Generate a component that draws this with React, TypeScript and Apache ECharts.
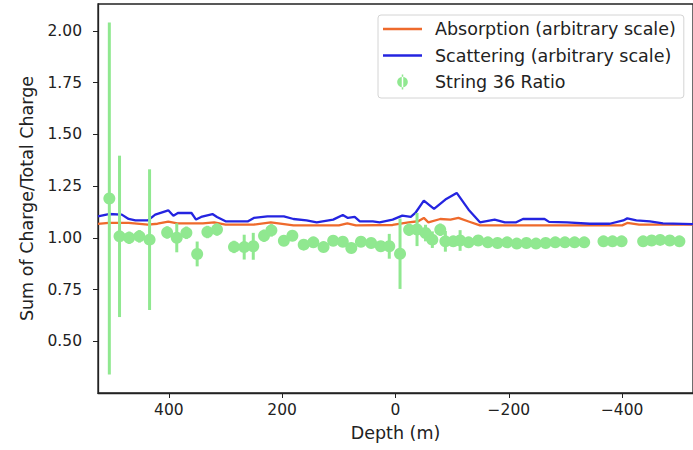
import React, { useEffect, useRef } from 'react';
import * as echarts from 'echarts';

const xTicks = [400, 200, 0, -200, -400];
const yTicks = [0.5, 0.75, 1.0, 1.25, 1.5, 1.75, 2.0];

const absorptionDepth = [525, 506, 471, 437, 420, 401, 385, 340, 320, 300, 250, 220, 180, 100, 85, 70, 5, -23, -40, -50, -58, -79, -97, -111, -129, -149, -400, -409, -430, -525];
const absorptionValue = [1.067, 1.072, 1.072, 1.064, 1.068, 1.078, 1.07, 1.07, 1.075, 1.064, 1.064, 1.075, 1.06, 1.06, 1.07, 1.06, 1.062, 1.075, 1.08, 1.096, 1.075, 1.091, 1.088, 1.096, 1.079, 1.06, 1.06, 1.072, 1.064, 1.064];

const scatteringDepth = [525, 506, 483, 471, 459, 437, 424, 401, 392, 384, 360, 352, 343, 323, 315, 299, 261, 250, 226, 197, 180, 157, 139, 110, 93, 84, 72, 63, 40, 28, 5, -12, -27, -35, -50, -68, -88, -108, -129, -149, -175, -193, -213, -225, -263, -271, -303, -343, -378, -402, -409, -425, -449, -472, -525];
const scatteringValue = [1.104, 1.115, 1.112, 1.091, 1.084, 1.084, 1.112, 1.133, 1.107, 1.12, 1.12, 1.088, 1.101, 1.115, 1.101, 1.079, 1.079, 1.096, 1.104, 1.104, 1.091, 1.084, 1.075, 1.088, 1.11, 1.096, 1.101, 1.079, 1.079, 1.075, 1.088, 1.107, 1.101, 1.12, 1.18, 1.14, 1.185, 1.217, 1.136, 1.075, 1.088, 1.075, 1.075, 1.091, 1.091, 1.077, 1.075, 1.068, 1.068, 1.084, 1.094, 1.084, 1.079, 1.07, 1.066];

const ratioDepth = [505, 487, 470, 452, 434, 403, 386, 369, 350, 332, 315, 285, 267, 251, 232, 219, 197, 182, 162, 145, 127, 110, 93, 78, 61, 43, 26, 11, -8, -24, -38, -53, -65, -79, -88, -102, -114, -129, -146, -163, -180, -197, -214, -231, -248, -265, -282, -299, -316, -333, -367, -383, -399, -437, -452, -467, -484, -501];
const ratioValue = [1.19, 1.007, 1.0, 1.007, 0.991, 1.026, 1.0, 1.024, 0.922, 1.028, 1.04, 0.956, 0.955, 0.959, 1.01, 1.036, 0.986, 1.01, 0.967, 0.978, 0.955, 0.986, 0.981, 0.951, 0.981, 0.975, 0.959, 0.959, 0.923, 1.039, 1.04, 1.023, 0.991, 1.039, 0.983, 0.983, 0.987, 0.978, 0.987, 0.978, 0.975, 0.978, 0.972, 0.975, 0.972, 0.975, 0.978, 0.978, 0.978, 0.978, 0.983, 0.983, 0.983, 0.983, 0.987, 0.99, 0.987, 0.983];
const ratioError = [0.85, 0.39, 0.03, 0.03, 0.34, 0.03, 0.07, 0.03, 0.06, 0.03, 0.03, 0.03, 0.06, 0.065, 0.03, 0.03, 0.02, 0.02, 0.02, 0.02, 0.02, 0.02, 0.02, 0.02, 0.02, 0.02, 0.02, 0.06, 0.17, 0.03, 0.08, 0.04, 0.04, 0.03, 0.05, 0.02, 0.05, 0.02, 0.02, 0.02, 0.02, 0.02, 0.02, 0.02, 0.02, 0.02, 0.02, 0.02, 0.02, 0.02, 0.02, 0.02, 0.02, 0.02, 0.02, 0.02, 0.02, 0.02];

const ORANGE = '#ee6a2c';
const BLUE = '#2424e0';
const GREEN = '#90e890';
const FONT = 'DejaVu Sans';

const LINE_ICON = 'path://M0,0H39V2.5H0Z';
const ERR_ICON = 'path://M5.3,-1H6.7V13H5.3Z M6,1A5,5 0 1,0 6,11A5,5 0 1,0 6,1Z';

const fmt = (v: number, d: number) => (v < 0 ? '\u2212' + Math.abs(v).toFixed(d) : v.toFixed(d));

export default function App() {
  const ref = useRef<HTMLDivElement>(null);
  useEffect(() => {
    if (!ref.current) return;
    const chart = echarts.init(ref.current, undefined, { renderer: 'svg' });
    const absData = absorptionDepth.map((d, i) => [d, absorptionValue[i]]);
    const scaData = scatteringDepth.map((d, i) => [d, scatteringValue[i]]);
    const ratioData = ratioDepth.map((d, i) => [d, ratioValue[i]]);
    const errData = ratioDepth.map((d, i) => [d, ratioValue[i] - ratioError[i], ratioValue[i] + ratioError[i]]);
    chart.setOption({
      animation: false,
      backgroundColor: '#fff',
      textStyle: { fontFamily: FONT },
      grid: { left: 98, top: 4, right: -5, bottom: 57, show: true, borderColor: '#222', borderWidth: 1.3, backgroundColor: 'transparent' },
      xAxis: {
        type: 'value', inverse: true, min: -525, max: 525,
        name: 'Depth (m)', nameLocation: 'middle', nameGap: 31,
        nameTextStyle: { fontSize: 17.5, color: '#222', fontFamily: FONT },
        axisLine: { show: true, onZero: false, lineStyle: { color: '#222', width: 1.3 } },
        axisTick: { show: true, length: 5, customValues: xTicks, lineStyle: { color: '#222' } },
        axisLabel: { customValues: xTicks, margin: 9, fontSize: 15.5, color: '#222', fontFamily: FONT, formatter: (v: number) => fmt(v, 0) },
        splitLine: { show: false },
      },
      yAxis: {
        type: 'value', min: 0.25, max: 2.13,
        name: 'Sum of Charge/Total Charge', nameLocation: 'middle', nameGap: 62,
        nameTextStyle: { fontSize: 17.5, color: '#222', fontFamily: FONT },
        axisLine: { show: true, onZero: false, lineStyle: { color: '#222', width: 1.3 } },
        axisTick: { show: true, length: 5, customValues: yTicks, lineStyle: { color: '#222' } },
        axisLabel: { customValues: yTicks, margin: 16, fontSize: 15.5, color: '#222', fontFamily: FONT, formatter: (v: number) => fmt(v, 2) },
        splitLine: { show: false },
      },
      legend: {
        orient: 'vertical', left: 378, top: 15,
        padding: [4, 8, 6, 5],
        itemWidth: 39, itemHeight: 15, itemGap: 6.5,
        backgroundColor: '#fff', borderColor: '#d4d4d4', borderWidth: 1, borderRadius: 3,
        textStyle: { fontSize: 17.5, lineHeight: 20, color: '#222', fontFamily: FONT, padding: [0, 0, 0, 8] },
        data: [
          { name: 'Absorption (arbitrary scale)', icon: LINE_ICON },
          { name: 'Scattering (arbitrary scale)', icon: LINE_ICON },
          { name: 'String 36 Ratio', icon: ERR_ICON },
        ],
      },
      series: [
        {
          name: 'Absorption (arbitrary scale)', type: 'line', data: absData, symbol: 'none', showSymbol: false, z: 2,
          lineStyle: { color: ORANGE, width: 2.3 }, itemStyle: { color: ORANGE },
        },
        {
          name: 'Scattering (arbitrary scale)', type: 'line', data: scaData, symbol: 'none', showSymbol: false, z: 3,
          lineStyle: { color: BLUE, width: 2.3 }, itemStyle: { color: BLUE },
        },
        {
          name: 'String 36 Ratio', type: 'scatter', data: ratioData, symbol: 'circle', symbolSize: 12, z: 5,
          itemStyle: { color: GREEN, opacity: 1 },
        },
        {
          name: 'String 36 Ratio', type: 'custom', data: errData, z: 4,
          encode: { x: 0, y: [1, 2] },
          renderItem: (_params: any, api: any) => {
            const p1 = api.coord([api.value(0), api.value(1)]);
            const p2 = api.coord([api.value(0), api.value(2)]);
            return { type: 'line', shape: { x1: p1[0], y1: p1[1], x2: p2[0], y2: p2[1] }, style: { stroke: GREEN, lineWidth: 3 } };
          },
        },
      ],
    });
    return () => chart.dispose();
  }, []);
  return <div ref={ref} style={{ width: 693, height: 450, position: 'absolute', left: 0, top: 0 }} />;
}
